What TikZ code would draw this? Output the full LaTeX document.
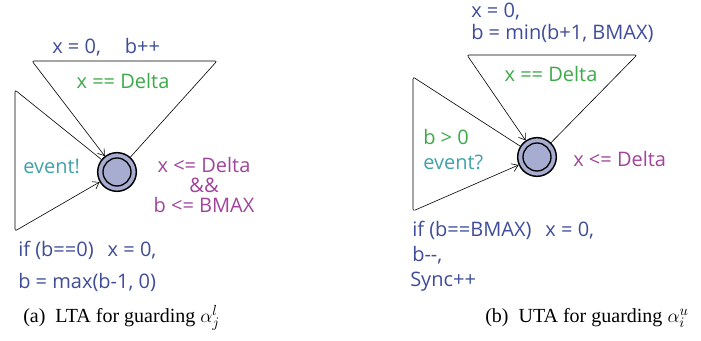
\documentclass[tikz,border=0pt]{standalone}
\usepackage{fontspec}
\setmainfont{Liberation Serif}
\newfontfamily\uppfont{Open Sans}
\usepackage{xcolor}
\usetikzlibrary{arrows.meta,calc,positioning}
\definecolor{updblue}{HTML}{3F4C9A}
\definecolor{grdgreen}{HTML}{3DAA4A}
\definecolor{synteal}{HTML}{3FA3A8}
\definecolor{invpurple}{HTML}{A0449C}
\definecolor{locfill}{HTML}{A7ADD1}
\newcommand{\lblfont}{\uppfont\fontsize{15pt}{17pt}\selectfont}
\tikzset{
  edgearr/.style={-{Straight Barb[length=1.6mm,width=2.2mm]}, line width=0.45pt, rounded corners=1.5pt},
  locnode/.style={circle, draw, line width=1.1pt, fill=locfill, minimum size=29pt, inner sep=0pt},
  upd/.style={font=\lblfont, text=updblue, inner sep=0pt, anchor=west},
  grd/.style={font=\lblfont, text=grdgreen, inner sep=0pt},
  syn/.style={font=\lblfont, text=synteal, inner sep=0pt, anchor=west},
  inv/.style={font=\lblfont, text=invpurple, inner sep=0pt},
  capt/.style={font=\fontsize{15pt}{17pt}\selectfont, inner sep=0pt, anchor=west}
}

\begin{document}
\begin{tikzpicture}[x=0.75pt,y=-0.75pt]
  \useasboundingbox (0,0) rectangle (701,341);
  % (a) lower timed automaton
  \node[locnode] (la) at (117,172) {};
  \draw[line width=1pt] (la) circle[radius=10.5pt];
  \coordinate (la-tl) at (32,61);
  \coordinate (la-tr) at (217,61);
  \coordinate (la-lt) at (15,90);
  \coordinate (la-lb) at (15,231);
  \draw[edgearr] (la) -- (la-tr) -- (la-tl) -- (la);
  \draw[edgearr] (la) -- (la-lt) -- (la-lb) -- (la);
  \node[upd] (la-upd) at (52,47) {x = 0,\hspace{1.2em}b++};
  \node[grd] (la-grd) at (123,81) {x == Delta};
  \node[syn] (la-syn) at (23,167) {event!};
  \node[inv, align=center] (la-inv) at (204,185) {x <= Delta\\[-2pt]\&\&\\[-2pt]b <= BMAX};
  \node[upd] (la-upd1) at (18,250) {if (b==0)\hspace{0.7em}x = 0,};
  \node[upd] (la-upd2) at (18,282) {b = max(b{-}1, 0)};
  \node[capt] (la-cap) at (23,318) {(a)\ \ LTA for guarding $\alpha_j^l$};
  % (b) upper timed automaton
  \node[locnode] (ua) at (537,157) {};
  \draw[line width=1pt] (ua) circle[radius=10.5pt];
  \coordinate (ua-tl) at (467,55);
  \coordinate (ua-tr) at (637,55);
  \coordinate (ua-lt) at (413,77);
  \coordinate (ua-lb) at (413,211);
  \draw[edgearr] (ua) -- (ua-tr) -- (ua-tl) -- (ua);
  \draw[edgearr] (ua) -- (ua-lt) -- (ua-lb) -- (ua);
  \node[upd] (ua-upd1) at (471,12) {x = 0,};
  \node[upd] (ua-upd2) at (471,33) {b = min(b+1, BMAX)};
  \node[grd] (ua-grd) at (551,74) {x == Delta};
  \node[grd, anchor=west] (ua-grd2) at (423,137) {b > 0};
  \node[syn] (ua-syn) at (423,162) {event?};
  \node[inv, anchor=west] (ua-inv) at (573,159) {x <= Delta};
  \node[upd] (ua-upd3) at (412,230) {if (b==BMAX)\hspace{0.7em}x = 0,};
  \node[upd] (ua-upd4) at (412,255) {b{-}{-},};
  \node[upd] (ua-upd5) at (410,282) {Sync++};
  \node[capt] (ua-cap) at (485,318) {(b)\ \ UTA for guarding $\alpha_i^u$};
\end{tikzpicture}
\end{document}
